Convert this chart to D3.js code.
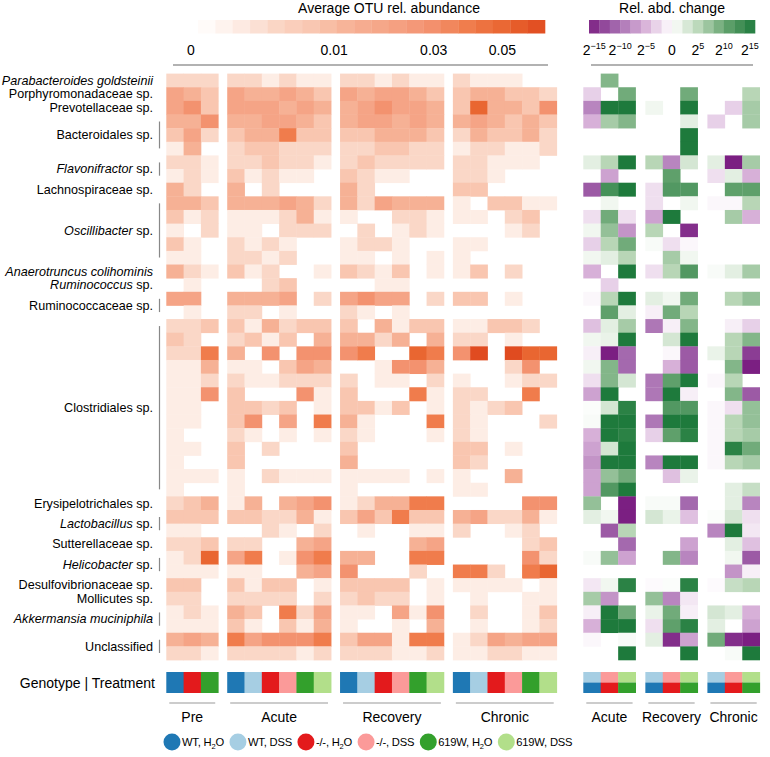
<!DOCTYPE html>
<html><head><meta charset="utf-8">
<script src="https://cdn.jsdelivr.net/npm/d3@7"></script>
<style>body{margin:0;background:#fff;} svg{display:block;font-family:"Liberation Sans",Arial,Helvetica,sans-serif;}</style>
</head><body><svg id="c" width="770" height="757"></svg>
<script>
// ---------------- DATA ----------------
// taxa: [label, number of OTU rows, italic mode ("all" | "genus" | "none")]
const taxa = [
  ["Parabacteroides goldsteinii",1,"all"],
  ["Porphyromonadaceae sp.",1,"none"],
  ["Prevotellaceae sp.",1,"none"],
  ["Bacteroidales sp.",3,"none"],
  ["Flavonifractor sp.",2,"genus"],
  ["Lachnospiraceae sp.",1,"none"],
  ["Oscillibacter sp.",5,"genus"],
  ["Anaerotruncus colihominis",1,"all"],
  ["Ruminococcus sp.",1,"genus"],
  ["Ruminococcaceae sp.",2,"none"],
  ["Clostridiales sp.",13,"none"],
  ["Erysipelotrichales sp.",1,"none"],
  ["Lactobacillus sp.",2,"genus"],
  ["Sutterellaceae sp.",1,"none"],
  ["Helicobacter sp.",2,"genus"],
  ["Desulfovibrionaceae sp.",1,"none"],
  ["Mollicutes sp.",1,"none"],
  ["Akkermansia muciniphila",2,"all"],
  ["Unclassified",2,"none"]
];
const phases = ["Pre","Acute","Recovery","Chronic"];
const changePhases = ["Acute","Recovery","Chronic"];
const groups = ["WT, H2O","WT, DSS","-/-, H2O","-/-, DSS","619W, H2O","619W, DSS"];
const preGroups = ["WT, H2O","-/-, H2O","619W, H2O"];
const genotypes = ["WT","-/-","619W"];
const abundanceTicks = [0,0.01,0.03,0.05];
const changeTicks = [-15,-10,-5,0,5,10,15];

// average OTU relative abundance (rows = OTUs, cols = groups)
const preAbund = [
[.003,.003,.003],[.019,.012,.007],[.019,.028,.007],[.012,.012,.028],[.007,.019,.003],[.0008,.012,0],[.003,.003,.0008],[.0008,.003,.0008],
[.012,.003,0],[.012,.012,.007],[.007,.0008,.003],[.0008,0,.003],[.007,.0008,0],[.0008,.0008,0],[.012,.003,.0008],[0,.0008,0],
[.019,.019,0],[0,.0008,0],[.003,.003,.007],[.007,.003,0],[.003,.003,.038],[.0008,.0008,.012],[.0008,.0008,.003],[.0008,.0008,.028],
[.0008,.0008,0],[.0008,.0008,0],[.0008,0,0],[.0008,.0008,0],[.0008,0,0],[.0008,.0008,.0008],[.0008,0,0],[.003,.007,.012],
[.007,.007,.007],[.0008,.0008,0],[.003,.003,.007],[.0008,.003,.049],[.0008,.0008,.0008],[.007,.007,0],[.003,.003,0],[.0008,.003,.0008],
[.0008,.0008,.0008],[.012,.019,.012],[.003,.003,.0008]];
const acuteAbund = [
[.003,.003,.0008,.003,.0008,.0008],[.019,.012,.012,.019,.012,.007],[.019,.019,.019,.012,.019,.012],[.012,.012,.019,.019,.012,.007],
[.007,.012,.012,.038,.007,.007],[.003,.007,.007,.003,.003,.003],[.003,.003,.007,.003,.003,.0008],[.007,.0008,.003,.0008,.0008,0],
[.012,0,.003,0,0,0],[.012,.012,.012,.019,.012,.003],[.0008,.0008,.0008,.003,.012,.0008],[.0008,.0008,0,.003,.003,.003],
[.003,.0008,.003,.0008,0,0],[.003,.003,.0008,.003,0,0],[.007,.0008,.003,0,0,.0008],[0,0,.003,.007,0,0],
[.012,.012,.012,.019,0,.003],[.003,.003,0,.0008,0,0],[.007,.0008,.012,.003,.007,.007],[.003,.007,.0008,.007,0,.012],
[.012,0,.028,0,.028,.028],[.0008,.0008,0,.007,.019,.012],[.003,.0008,.0008,.003,.003,.003],[.007,0,0,0,.028,.0008],
[.007,.007,.003,.007,0,.0008],[.007,.028,0,.019,0,.038],[.003,.0008,0,.0008,0,.0008],[.007,0,.003,0,0,0],
[.007,0,0,0,0,0],[.0008,0,.003,.0008,.0008,.0008],[.0008,0,0,0,0,0],[.0008,.012,0,.012,.019,.028],
[.007,.007,.003,.003,.012,.0008],[0,0,.003,.0008,0,.003],[.003,.003,0,0,.012,.019],[.019,.038,0,.0008,.028,.038],
[.0008,.0008,0,0,.012,.019],[.007,.0008,.007,.007,0,.0008],[.003,.003,.003,.003,0,.003],[.012,.007,0,.038,.003,.019],
[.007,.0008,0,.007,.0008,.012],[.038,.019,.028,.028,.028,.038],[.003,.003,.003,.003,.0008,.003]];
const recoveryAbund = [
[.003,.003,.0008,.003,.0008,.0008],[.019,.012,.019,.019,.012,.007],[.012,.019,.028,.019,.019,.012],[.012,.019,.019,.012,.019,.012],
[.007,.007,.012,.012,.012,.007],[.003,.003,.007,.007,.003,.003],[.003,.007,.003,.003,.003,.003],[.007,.003,.0008,.0008,0,0],
[.012,.003,0,0,0,0],[.012,.003,.019,.012,.012,.012],[.0008,0,0,.003,.003,.0008],[0,.003,0,.0008,.003,.0008],
[.0008,.003,.003,.0008,0,0],[.0008,.0008,0,.0008,0,.0008],[.007,.003,.0008,.007,0,.0008],[0,0,.0008,.0008,0,0],
[.019,.028,.019,.019,0,.003],[.003,.0008,0,.0008,0,0],[.007,0,.012,.0008,.007,.007],[.012,.012,.003,.012,0,.012],
[.028,.038,0,0,.049,.038],[0,0,.0008,.028,.028,.012],[.003,0,.0008,.0008,0,.003],[.007,0,0,0,.038,.0008],
[.007,.007,.0008,.007,0,.0008],[.012,.0008,0,0,0,.038],[.003,.0008,0,0,0,.0008],[.007,0,0,0,0,0],
[.012,0,0,0,0,0],[.0008,.0008,.0008,.0008,0,.0008],[.0008,0,0,0,0,0],[.0008,.003,.012,.012,.038,.038],
[.007,.019,.007,.038,.007,.007],[0,.0008,0,0,.0008,.0008],[0,0,0,0,.012,.019],[.012,.012,0,0,.038,.038],
[.028,0,0,0,.003,0],[.007,.007,.007,.007,0,.0008],[.003,.007,.003,.003,0,.0008],[.0008,.0008,0,.019,.0008,.028],
[.0008,0,0,.0008,0,.012],[.007,.019,.019,.0008,.038,.038],[.003,.003,.003,.0008,.0008,.003]];
const chronicAbund = [
[.003,.0008,.0008,.0008,0,0],[.007,.012,.012,.007,.007,.003],[.007,.049,.012,.012,.007,.028],[.012,.019,.012,.007,.012,.007],
[.003,.012,.007,.007,.012,.003],[.0008,.003,.003,.0008,.0008,.003],[.003,.003,.0008,.0008,.0008,0],[.003,.003,.0008,0,0,0],
[.007,.007,0,0,0,0],[.0008,0,.007,.007,.0008,.0008],[.0008,.0008,0,.003,.007,0],[0,0,0,.0008,.003,0],
[.0008,.0008,0,0,0,0],[.0008,0,0,0,0,0],[.0008,.007,0,.003,0,0],[0,0,0,0,0,0],
[.007,.007,0,.0008,0,0],[0,0,0,0,0,0],[.0008,.0008,.007,.007,.003,0],[.003,.003,0,.0008,0,0],
[.028,.062,0,.062,.049,.049],[0,0,0,.003,.028,0],[.0008,0,0,.0008,.003,.003],[.003,.003,0,0,.038,0],
[.003,.0008,.003,.007,0,0],[.003,.0008,0,0,0,.003],[.003,.0008,0,0,0,0],[.007,.007,0,.0008,0,0],
[.007,.003,0,0,0,0],[.0008,0,0,.012,0,0],[.0008,.0008,0,0,0,0],[0,0,0,0,.028,.028],
[.012,.019,.003,.003,.012,.0008],[.003,0,0,.0008,.003,0],[0,0,0,0,.003,.007],[0,0,0,0,.028,.003],
[.038,.038,.003,0,.038,.049],[.0008,.0008,.0008,.0008,0,.0008],[0,.0008,0,0,.0008,.0008],[0,.003,0,0,.0008,.007],
[0,.0008,0,0,.0008,.003],[.0008,.003,.019,.012,.019,.019],[.0008,.0008,.003,.003,.0008,.0008]];

// relative abundance change, log2 (cols = WT, -/-, 619W)
const acuteChange = [
[0,8,0],[-3,0,9],[-8,15,15],[-5,6,8],[0,0,0],[0,0,0],[2,5,15],[0,-6,0],
[-11,12,15],[0,1,0],[-2,9,-2],[1,7,-7],[-3,5,9],[1,2,5],[-5,0,15],[0,-3,0],
[-0.5,5,15],[0,10,2],[-4,2,6],[1,1.5,15],[-1,-15,-10],[1,8,-10],[-2,8,3],[-6,15,0],
[0.3,3,14],[0.5,15,15],[-5,15,14],[-6,3,15],[-7,15,15],[-6,7,9],[-6,11,15],[7,0,-15],
[2,1,-15],[0,-11,5],[0,0,-10],[0.5,7,-6],[0,0,0],[-1.5,1,14],[6,-7,0],[-1,15,9],
[-5,15,15],[-0.5,0,0.5],[0,0,15]];
const recoveryChange = [
[0,0,0],[0,0,9],[1,0,15],[0,0,2],[0,0,15],[0,0,15],[5,-8,3],[0,10,0],
[-2,11,11],[-2,0,1],[-6,15,0],[5,0,-14],[0.5,-2,-0.5],[0,6,1],[-2,5,11],[0,0,0],
[2,1,9],[-1,9,5],[-9,-1,8],[0,3,15],[0,-0.5,-11],[0,-5,-11],[-9,10,15],[-9,15,-1],
[0,11,11],[-9,15,15],[-3,10,14],[0,0,0],[-8,15,15],[0,-4,1.5],[0,0,0],[0.5,0.5,-10],
[3,1.5,-4],[0,0,0],[0,0,-6],[0,8,-8],[0,0,0],[-0.3,0.3,14],[7,-8,-1.5],[1.5,9,-1],
[-2,10,14],[2,-14,-6],[0,0,15]];
const chronicChange = [
[0,0,0],[0,0,5],[0,-3,6],[-3,0,6],[0,0,0],[0,0,0],[2,-15,6],[-2,2,-5],
[0,10,10],[-0.5,-0.5,5],[0,6,-5],[0,0,0],[0,0,0],[0,0,0],[0.5,2,6],[0,0,0],
[0,5,7],[0,0,0],[0,-1,-3],[0,5,8],[1.5,5,-13],[0,8,-15],[-0.5,5,0],[0,8,-11],
[-0.5,-2,7],[-0.5,5,7],[-0.5,5,6],[-0.5,14,9],[-0.5,5,6],[0,0,0],[0,2,4],[0,2,-8],
[0.3,3,-2],[-8,15,-1.5],[0,2,-4],[0,1,-11],[0,-7,-1],[-0.3,4,5],[0,0,0],[3,2,-5],
[2,0,-6],[9,-14,-15],[0,0.5,15]];

// ---------------- DRAWING ----------------
const svg = d3.select("#c");
const nRows = preAbund.length;
const groupColor = d3.scaleOrdinal().domain(groups)
  .range(["#1f78b4","#a6cee3","#e31a1c","#fb9a99","#33a02c","#b2df8a"]);

const abT = d3.scaleSqrt().domain([0,0.0625]).range([0,1]).clamp(true);
const abColor = d3.scaleLinear()
  .domain([0,.111,.222,.333,.444,.556,.667,.778,.889,1])
  .range(["#ffffff","#fdede6","#fad6c6","#f9c6b0","#f6b094","#f5a385","#f39270","#f07c4c","#e96530","#e04a1f"]);
const chColor = d3.scaleLinear().domain([-15,-10,-5,0,5,10,15])
  .range(["#7b1f82","#a469ae","#d7b0d8","#ffffff","#b8d6b6","#5fa06b","#1e7a3c"]).clamp(true);

const y = d3.scaleBand().domain(d3.range(nRows)).range([73.6,660]);
const leftX = d3.scaleLinear().domain([0,22.56]).range([166.3,556.7]);
const rightX = d3.scaleLinear().domain([0,10.12]).range([583.3,759.7]);
const leftOff = {Pre:0,Acute:3.52,Recovery:10.04,Chronic:16.56};
const rightOff = {Acute:0,Recovery:3.56,Chronic:7.12};
const abundByPhase = {Pre:preAbund,Acute:acuteAbund,Recovery:recoveryAbund,Chronic:chronicAbund};
const changeByPhase = {Acute:acuteChange,Recovery:recoveryChange,Chronic:chronicChange};
const cw = leftX(1)-leftX(0), rw = rightX(1)-rightX(0);

// left heatmap
const gL = svg.append("g");
phases.forEach(p => {
  const data = abundByPhase[p];
  data.forEach((row,r) => row.forEach((v,c) => {
    if (v <= 0) return;
    gL.append("rect").attr("x",leftX(leftOff[p]+c)).attr("y",y(r))
      .attr("width",cw+0.4).attr("height",y.bandwidth()+0.4)
      .attr("fill",abColor(abT(v)));
  }));
});
// right heatmap
const gR = svg.append("g");
changePhases.forEach(p => {
  changeByPhase[p].forEach((row,r) => row.forEach((v,c) => {
    if (v === 0) return;
    gR.append("rect").attr("x",rightX(rightOff[p]+c)).attr("y",y(r))
      .attr("width",rw+0.3).attr("height",y.bandwidth()+0.3)
      .attr("fill",chColor(v));
  }));
});

// taxa labels & brackets
let rowIdx = 0;
const gT = svg.append("g").attr("font-size",12.6).attr("fill","#000");
taxa.forEach(([label,n,mode]) => {
  const top = y(rowIdx), bot = y(rowIdx+n-1)+y.bandwidth();
  const cy = (top+bot)/2;
  const t = gT.append("text").attr("x",153).attr("y",cy).attr("dy","0.35em").attr("text-anchor","end");
  if (mode==="all") t.append("tspan").attr("font-style","italic").text(label);
  else if (mode==="genus") {
    const i = label.indexOf(" ");
    t.append("tspan").attr("font-style","italic").text(label.slice(0,i));
    t.append("tspan").text(label.slice(i));
  } else t.text(label);
  if (n > 1) {
    svg.append("line").attr("x1",159.5).attr("x2",159.5).attr("y1",top+7).attr("y2",bot-7)
      .attr("stroke","#888").attr("stroke-width",1.2);
  }
  rowIdx += n;
});

// genotype / treatment bars
svg.append("text").attr("x",155).attr("y",683).attr("dy","0.35em").attr("text-anchor","end")
  .attr("font-size",14).text("Genotype | Treatment");
phases.forEach(p => {
  const gs = p==="Pre" ? preGroups : groups;
  gs.forEach((g,c) => {
    svg.append("rect").attr("x",leftX(leftOff[p]+c)).attr("y",672).attr("width",cw+0.4).attr("height",21)
      .attr("fill",groupColor(g));
  });
  const x0 = leftX(leftOff[p]), x1 = leftX(leftOff[p]+gs.length);
  svg.append("line").attr("x1",x0+3).attr("x2",x1-3).attr("y1",703).attr("y2",703).attr("stroke","#999").attr("stroke-width",1.2);
  svg.append("text").attr("x",(x0+x1)/2).attr("y",722).attr("text-anchor","middle").attr("font-size",14).text(p);
});
changePhases.forEach(p => {
  genotypes.forEach((g,c) => {
    const x = rightX(rightOff[p]+c);
    svg.append("rect").attr("x",x).attr("y",672).attr("width",rw+0.4).attr("height",10.5).attr("fill",groupColor(g+", DSS"));
    svg.append("rect").attr("x",x).attr("y",682.5).attr("width",rw+0.4).attr("height",10.5).attr("fill",groupColor(g+", H2O"));
  });
  const x0 = rightX(rightOff[p]), x1 = rightX(rightOff[p]+3);
  svg.append("line").attr("x1",x0+3).attr("x2",x1-3).attr("y1",703).attr("y2",703).attr("stroke","#999").attr("stroke-width",1.2);
  svg.append("text").attr("x",(x0+x1)/2).attr("y",722).attr("text-anchor","middle").attr("font-size",14).text(p);
});

// bottom legend
let lx = 172;
groups.forEach(g => {
  svg.append("circle").attr("cx",lx).attr("cy",742).attr("r",8.5).attr("fill",groupColor(g));
  const t = svg.append("text").attr("x",lx+10).attr("y",746).attr("font-size",11.2).attr("letter-spacing",-0.2);
  const parts = g.split("H2O");
  if (parts.length > 1) {
    t.append("tspan").text(parts[0]+"H");
    t.append("tspan").attr("font-size",7.5).attr("dy",3).text("2");
    t.append("tspan").attr("dy",-3).text("O");
  } else t.text(g);
  lx = lx + 10 + t.node().getComputedTextLength() + 14;
});

// abundance colour legend
const legX = d3.scaleSqrt().domain([0,0.065]).range([198,545]);
svg.append("text").attr("x",389).attr("y",13).attr("text-anchor","middle").attr("font-size",14).text("Average OTU rel. abundance");
const nSeg = 20;
d3.range(nSeg).forEach(i => {
  const a = 198 + (545-198)*i/nSeg, b = 198 + (545-198)*(i+1)/nSeg;
  svg.append("rect").attr("x",a).attr("y",20).attr("width",b-a+0.3).attr("height",13.5)
    .attr("fill",abColor((i+0.5)/nSeg));
});
abundanceTicks.forEach((v,i) => {
  svg.append("text").attr("x",legX(v) - (i===0?7:0)).attr("y",55).attr("text-anchor","middle").attr("font-size",14).text(v===0?"0":v);
});
svg.append("line").attr("x1",173).attr("x2",548).attr("y1",65).attr("y2",65).attr("stroke","#999").attr("stroke-width",1.5);

// change colour legend
const chX = d3.scaleLinear().domain([-16,16]).range([589,755]);
svg.append("text").attr("x",672).attr("y",13).attr("text-anchor","middle").attr("font-size",14).text("Rel. abd. change");
const nSeg2 = 16;
d3.range(nSeg2).forEach(i => {
  const a = chX(-16+32*i/nSeg2), b = chX(-16+32*(i+1)/nSeg2);
  svg.append("rect").attr("x",a).attr("y",20).attr("width",b-a+0.3).attr("height",13.5)
    .attr("fill",chColor(-15+30*(i+0.5)/nSeg2));
});
changeTicks.forEach(v => {
  const t = svg.append("text").attr("x",chX(v)).attr("y",55).attr("text-anchor","middle").attr("font-size",14);
  if (v===0) t.text("0");
  else {
    t.append("tspan").text("2");
    t.append("tspan").attr("font-size",9).attr("dy",-6).text(v<0 ? "\u2212"+(-v) : String(v));
  }
});
svg.append("line").attr("x1",591).attr("x2",753).attr("y1",65).attr("y2",65).attr("stroke","#999").attr("stroke-width",1.5);
</script></body></html>
